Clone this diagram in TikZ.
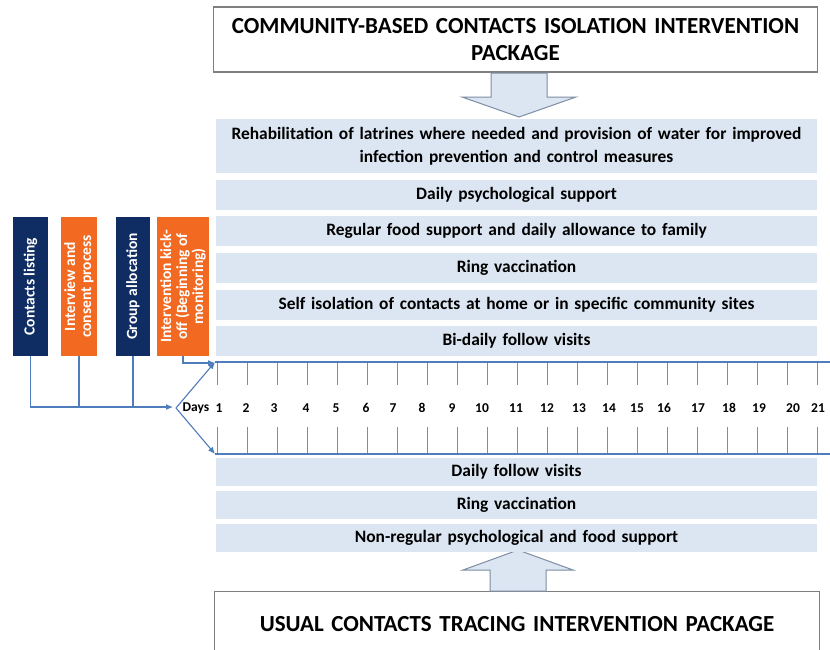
\documentclass[tikz,border=0pt]{standalone}
\usepackage{fontspec}
\setmainfont{Carlito}
\usepackage{xcolor}
\usetikzlibrary{arrows.meta,positioning}

\definecolor{navybox}{HTML}{0F2D62}
\definecolor{orangebox}{HTML}{F26A21}
\definecolor{rowblue}{HTML}{DCE6F2}
\definecolor{lineblue}{HTML}{4F7CBA}
\definecolor{tickgray}{HTML}{7D8DA3}
\definecolor{framegray}{HTML}{7F7F7F}

\begin{document}
\begin{tikzpicture}[x=1pt,y=-1pt,node distance=6.25pt]

\tikzstyle{package} = [rectangle, draw=framegray, line width=1.3pt, fill=white, minimum width=603pt, minimum height=65pt, text width=598pt, align=center, font=\fontsize{23}{27}\selectfont\bfseries]
\tikzstyle{row} = [rectangle, fill=rowblue, minimum width=601pt, minimum height=30pt, text width=598pt, align=center, inner sep=0pt, font=\fontsize{17.4}{23}\selectfont\bfseries]
\tikzstyle{phase} = [rectangle, rotate=90, minimum width=139pt, text=white, align=center, inner sep=1pt, font=\fontsize{15.5}{16}\selectfont\bfseries]
\tikzstyle{daylabel} = [inner sep=0pt, font=\fontsize{13.5}{15}\selectfont\bfseries]
\tikzstyle{link} = [lineblue, line width=1.1pt]
\tikzstyle{arrow} = [link, -{Latex[length=7pt,width=6pt]}]
\tikzstyle{blockarrow} = [fill=rowblue, draw=tickgray, line width=1pt]

\clip (0,0) rectangle (830,649);
\fill[white] (0,0) rectangle (830,649);

% the two packages
\node (community) [package] at (515.5,39.5) {COMMUNITY-BASED CONTACTS ISOLATION INTERVENTION\\PACKAGE};
\node (usual) [package] at (517,624) {USUAL CONTACTS TRACING INTERVENTION PACKAGE};

% block arrows
\draw[blockarrow] (491,73) -- (547,73) -- (547,97) -- (576,97) -- (519,117) -- (462,97) -- (491,97) -- cycle;
\draw[blockarrow] (490,591) -- (546,591) -- (546,570) -- (573,570) -- (518,550) -- (463,570) -- (490,570) -- cycle;

% community-based activities
\node (latrines) [row, minimum height=54pt] at (516.5,146) {Rehabilitation of latrines where needed and provision of water for improved\\infection prevention and control measures};
\node (psycho) [row, below=of latrines] {Daily psychological support};
\node (food) [row, below=of psycho] {Regular food support and daily allowance to family};
\node (ringtop) [row, below=of food] {Ring vaccination};
\node (isolation) [row, below=of ringtop] {Self isolation of contacts at home or in specific community sites};
\node (bidaily) [row, below=of isolation] {Bi-daily follow visits};

% usual activities
\node (daily) [row, minimum height=28pt] at (516.5,472) {Daily follow visits};
\node (ringbot) [row, minimum height=28pt, below=4.5pt of daily] {Ring vaccination};
\node (nonregular) [row, minimum height=28pt, below=4.5pt of ringbot] {Non-regular psychological and food support};

% steps before the follow-up
\node (listing) [phase, fill=navybox, minimum height=35pt] at (30.5,286.5) {Contacts listing};
\node (consent) [phase, fill=orangebox, minimum height=36pt] at (79,286.5) {Interview and\\consent process};
\node (allocation) [phase, fill=navybox, minimum height=34pt] at (133,286.5) {Group allocation};
\node (kickoff) [phase, fill=orangebox, minimum height=52pt] at (183,286.5) {Intervention kick-\\off (Beginning of\\monitoring)};

% timeline
\coordinate (vertex) at (176,408);
\coordinate (daysin) at (173,407);
\coordinate (tltop) at (215,362);
\coordinate (tlbot) at (215,454);
\coordinate (tltopend) at (830,362);
\coordinate (tlbotend) at (830,454);
\draw[link] (tltop) -- (tltopend);
\draw[link] (tlbot) -- (tlbotend);
\foreach \t in {0,...,20} {
  \draw[tickgray, line width=1pt] (217+30*\t,363) -- (217+30*\t,385);
  \draw[tickgray, line width=1pt] (217+30*\t,427) -- (217+30*\t,453);
}
\node (days) [daylabel] at (196,408) {Days};
\foreach \x [count=\d] in {219,246,274,306,336,366,393,422,452,482,516,547,579,609,637,664,698,729,759,793,818}
  \node (day\d) [daylabel] at (\x,408) {\d};

\draw[arrow] (vertex) -- (tltop);
\draw[arrow] (vertex) -- (tlbot);

% connectors
\draw[arrow] (listing.west) |- (daysin);
\draw[link] (consent.west) -- (consent.west |- daysin);
\draw[link] (allocation.west) -- (allocation.west |- daysin);
\draw[arrow] (kickoff.west) |- ([yshift=-1pt]tltop);

\end{tikzpicture}
\end{document}
